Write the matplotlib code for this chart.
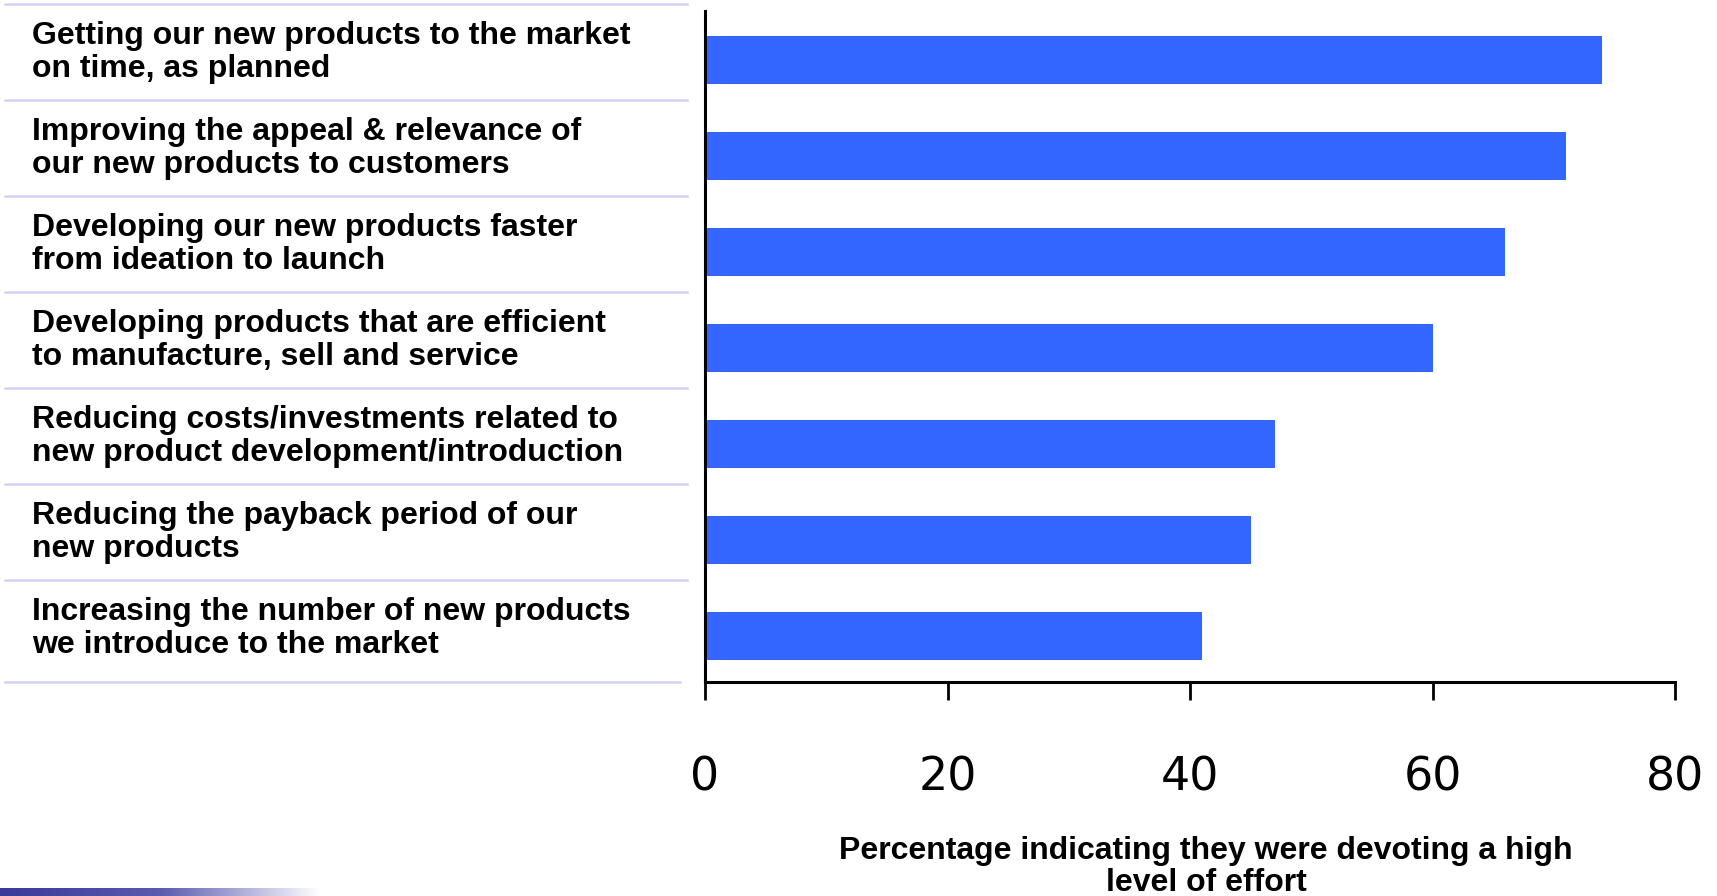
import numpy as np
import matplotlib.pyplot as plt
from matplotlib.colors import LinearSegmentedColormap
from matplotlib.transforms import blended_transform_factory

categories = [
    'Getting our new products to the market\non time, as planned',
    'Improving the appeal & relevance of\nour new products to customers',
    'Developing our new products faster\nfrom ideation to launch',
    'Developing products that are efficient\nto manufacture, sell and service',
    'Reducing costs/investments related to\nnew product development/introduction',
    'Reducing the payback period of our\nnew products',
    'Increasing the number of new products\nwe introduce to the market',
]
values = [74, 71, 66, 60, 47, 45, 41]
xticks = [0, 20, 40, 60, 80]
xlabel = 'Percentage indicating they were devoting a high\nlevel of effort'

W, H = 1717, 896
fig = plt.figure(figsize=(W / 100, H / 100), dpi=100)
ax = fig.add_axes([705 / W, 1 - 682 / H, (1675 - 705) / W, (682 - 11) / H])

pos = np.arange(len(values))[::-1]
ax.barh(pos, values, height=0.5, color='#3366FF')
ax.set_xlim(0, 80)
ax.set_ylim(-0.48, 6.51)

for s in ['top', 'right']:
    ax.spines[s].set_visible(False)
for s in ['left', 'bottom']:
    ax.spines[s].set_linewidth(2.2)
ax.set_yticks([])
ax.set_xticks(xticks)
ax.tick_params(axis='x', direction='out', length=13, width=2, pad=40,
               labelsize=33)
for lab in ax.get_xticklabels():
    lab.set_family('DejaVu Sans')

# category labels and separator lines on the left
tr = blended_transform_factory(fig.transFigure, ax.transData)
for p, c in zip(pos, categories):
    ax.text(32 / W, p + 0.075, c, transform=tr, ha='left', va='center',
            fontsize=23, fontweight='bold', family='Liberation Sans',
            linespacing=1.14, clip_on=False)
    ax.plot([5 / W, 687 / W], [p + 0.58, p + 0.58], transform=tr,
            color='#d2d2f4', lw=1.8, clip_on=False)
ax.plot([5 / W, 680 / W], [-0.48, -0.48], transform=tr,
        color='#d2d2f4', lw=1.8, clip_on=False)

fig.text(1206 / W, 1 - 867 / H, xlabel, ha='center', va='center',
         fontsize=23, fontweight='bold', family='Liberation Sans',
         linespacing=1.1)

# decorative gradient band at bottom left
gax = fig.add_axes([0, 0, 320 / W, 8 / H])
cmap = LinearSegmentedColormap.from_list('band', ['#3a3a98', '#5a5ab0', '#ffffff'])
gax.imshow(np.linspace(0, 1, 256)[None, :], aspect='auto', cmap=cmap)
gax.axis('off')

fig.savefig('out.png', dpi=100)
